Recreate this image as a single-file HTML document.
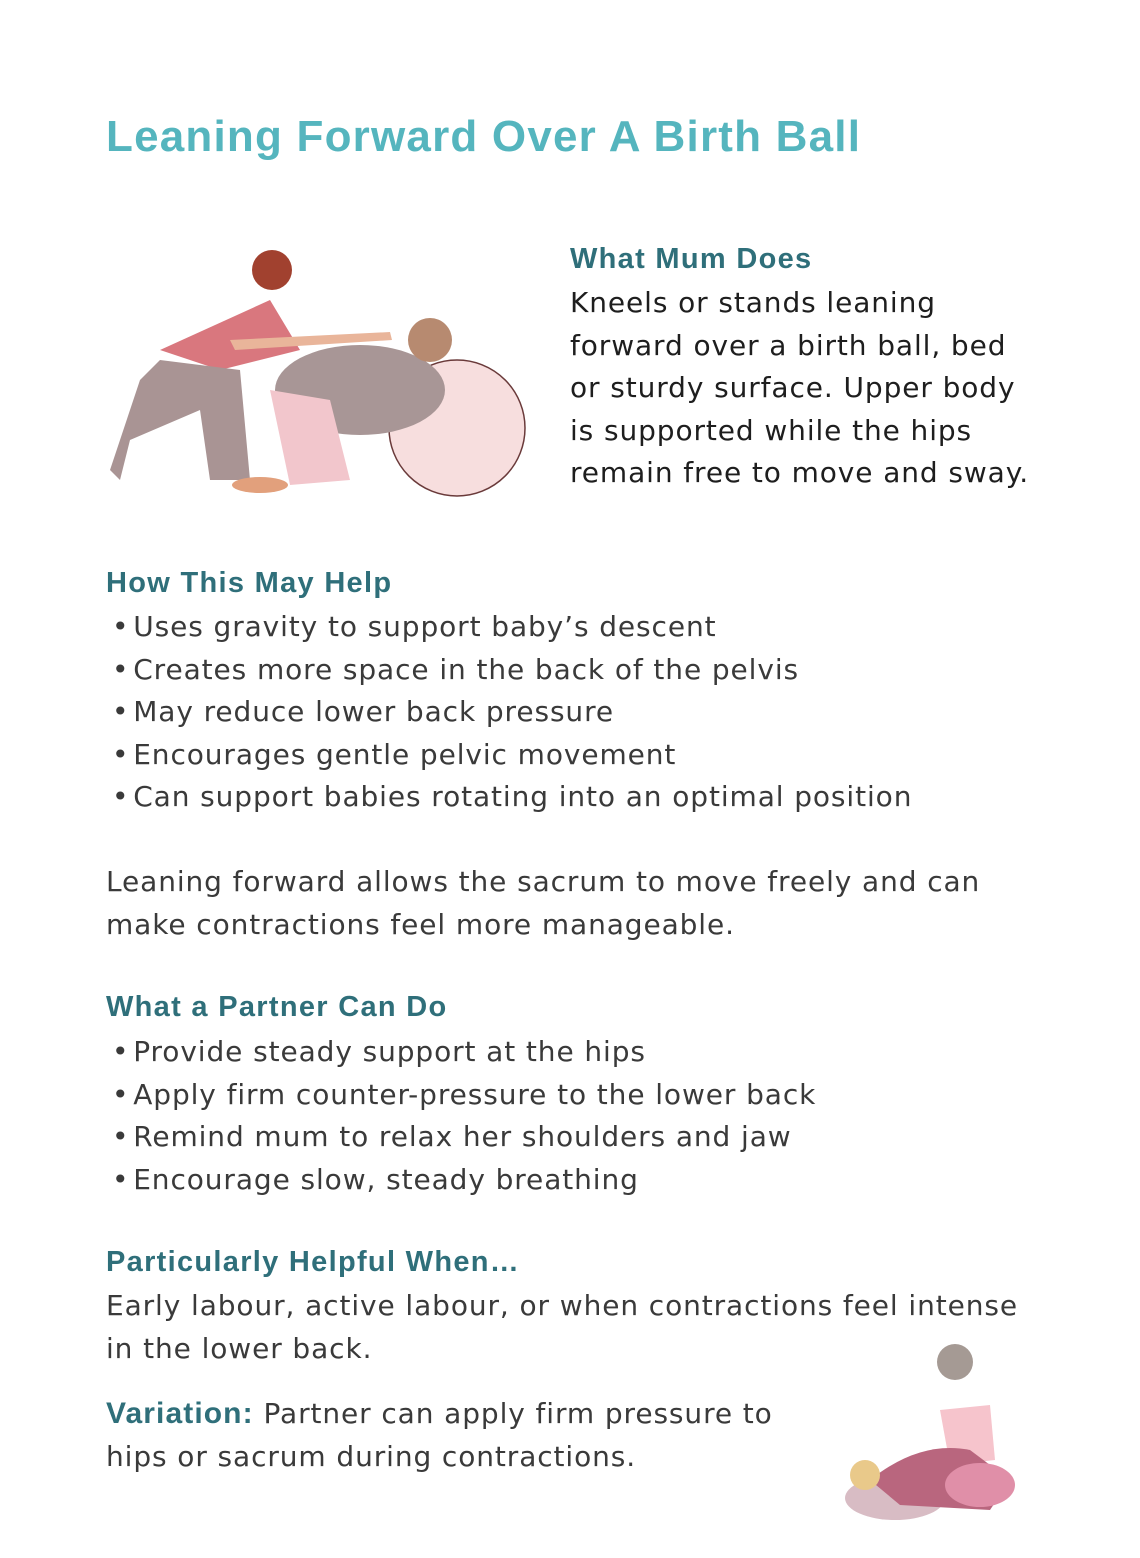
<!DOCTYPE html>
<html><head><meta charset="utf-8"><style>
body{margin:0;background:#fff;}
#p{position:relative;width:1140px;height:1558px;overflow:hidden;font-family:"Liberation Sans",sans-serif;color:#3a3a3a;}
.a{position:absolute;white-space:nowrap;}
h1{position:absolute;left:106px;top:112px;margin:0;font-size:44px;color:#55b5be;font-weight:bold;letter-spacing:1.2px;}
.h{font-weight:bold;color:#2f6f7a;font-size:29px;letter-spacing:1.3px;}
.t{font-family:"DejaVu Sans",sans-serif;font-size:28px;line-height:42.5px;letter-spacing:0.9px;}
.b{word-spacing:-6px;}
</style></head><body><div id="p">
<h1>Leaning Forward Over A Birth Ball</h1>

<svg class="a" style="left:100px;top:240px" width="440" height="270" viewBox="0 0 440 270">
<circle cx="357" cy="188" r="68" fill="#f7dede" stroke="#6a3a3a" stroke-width="1.5"/>
<ellipse cx="260" cy="150" rx="85" ry="45" fill="#a89696"/>
<path d="M170 150 L230 160 L250 240 L190 245 Z" fill="#f2c6cc"/>
<circle cx="330" cy="100" r="22" fill="#b78a70"/>
<path d="M60 110 L170 60 L200 110 L120 130 Z" fill="#d9777e"/>
<path d="M60 120 L140 130 L150 240 L110 240 L100 170 L30 200 L20 240 L10 230 L40 140 Z" fill="#a99494"/>
<circle cx="172" cy="30" r="20" fill="#a1412f"/>
<path d="M130 100 L290 92 L292 100 L135 110 Z" fill="#e9b59a"/>
<ellipse cx="160" cy="245" rx="28" ry="8" fill="#e2a07c"/>
</svg>

<div class="a h" style="left:570px;top:243px">What Mum Does</div>
<div class="a t" style="left:570px;top:282px;color:#1e1e1e">Kneels or stands leaning<br>forward over a birth ball, bed<br>or sturdy surface. Upper body<br>is supported while the hips<br>remain free to move and sway.</div>

<div class="a h" style="left:106px;top:567px">How This May Help</div>
<div class="a t" style="left:112px;top:606px"><span class="b">• </span>Uses gravity to support baby’s descent<br><span class="b">• </span>Creates more space in the back of the pelvis<br><span class="b">• </span>May reduce lower back pressure<br><span class="b">• </span>Encourages gentle pelvic movement<br><span class="b">• </span>Can support babies rotating into an optimal position</div>

<div class="a t" style="left:106px;top:861px">Leaning forward allows the sacrum to move freely and can<br>make contractions feel more manageable.</div>

<div class="a h" style="left:106px;top:991px">What a Partner Can Do</div>
<div class="a t" style="left:112px;top:1031px"><span class="b">• </span>Provide steady support at the hips<br><span class="b">• </span>Apply firm counter-pressure to the lower back<br><span class="b">• </span>Remind mum to relax her shoulders and jaw<br><span class="b">• </span>Encourage slow, steady breathing</div>

<div class="a h" style="left:106px;top:1246px">Particularly Helpful When…</div>
<div class="a t" style="left:106px;top:1285px">Early labour, active labour, or when contractions feel intense<br>in the lower back.</div>

<div class="a t" style="left:106px;top:1393px"><b style="color:#2f6f7a;font-family:'Liberation Sans',sans-serif;font-size:30px;letter-spacing:1.1px">Variation:</b> Partner can apply firm pressure to<br>hips or sacrum during contractions.</div>

<svg class="a" style="left:840px;top:1340px" width="190" height="190" viewBox="0 0 190 190">
<ellipse cx="55" cy="158" rx="50" ry="22" fill="#d8bcc4"/>
<path d="M100 70 L150 65 L155 120 L110 125 Z" fill="#f6c4cc"/>
<circle cx="115" cy="22" r="18" fill="#a59a94"/>
<path d="M30 140 Q80 100 130 110 L170 140 L150 170 L60 165 Z" fill="#b9667e"/>
<ellipse cx="140" cy="145" rx="35" ry="22" fill="#e08fa8"/>
<circle cx="25" cy="135" r="15" fill="#e9c98a"/>
</svg>
</div></body></html>
